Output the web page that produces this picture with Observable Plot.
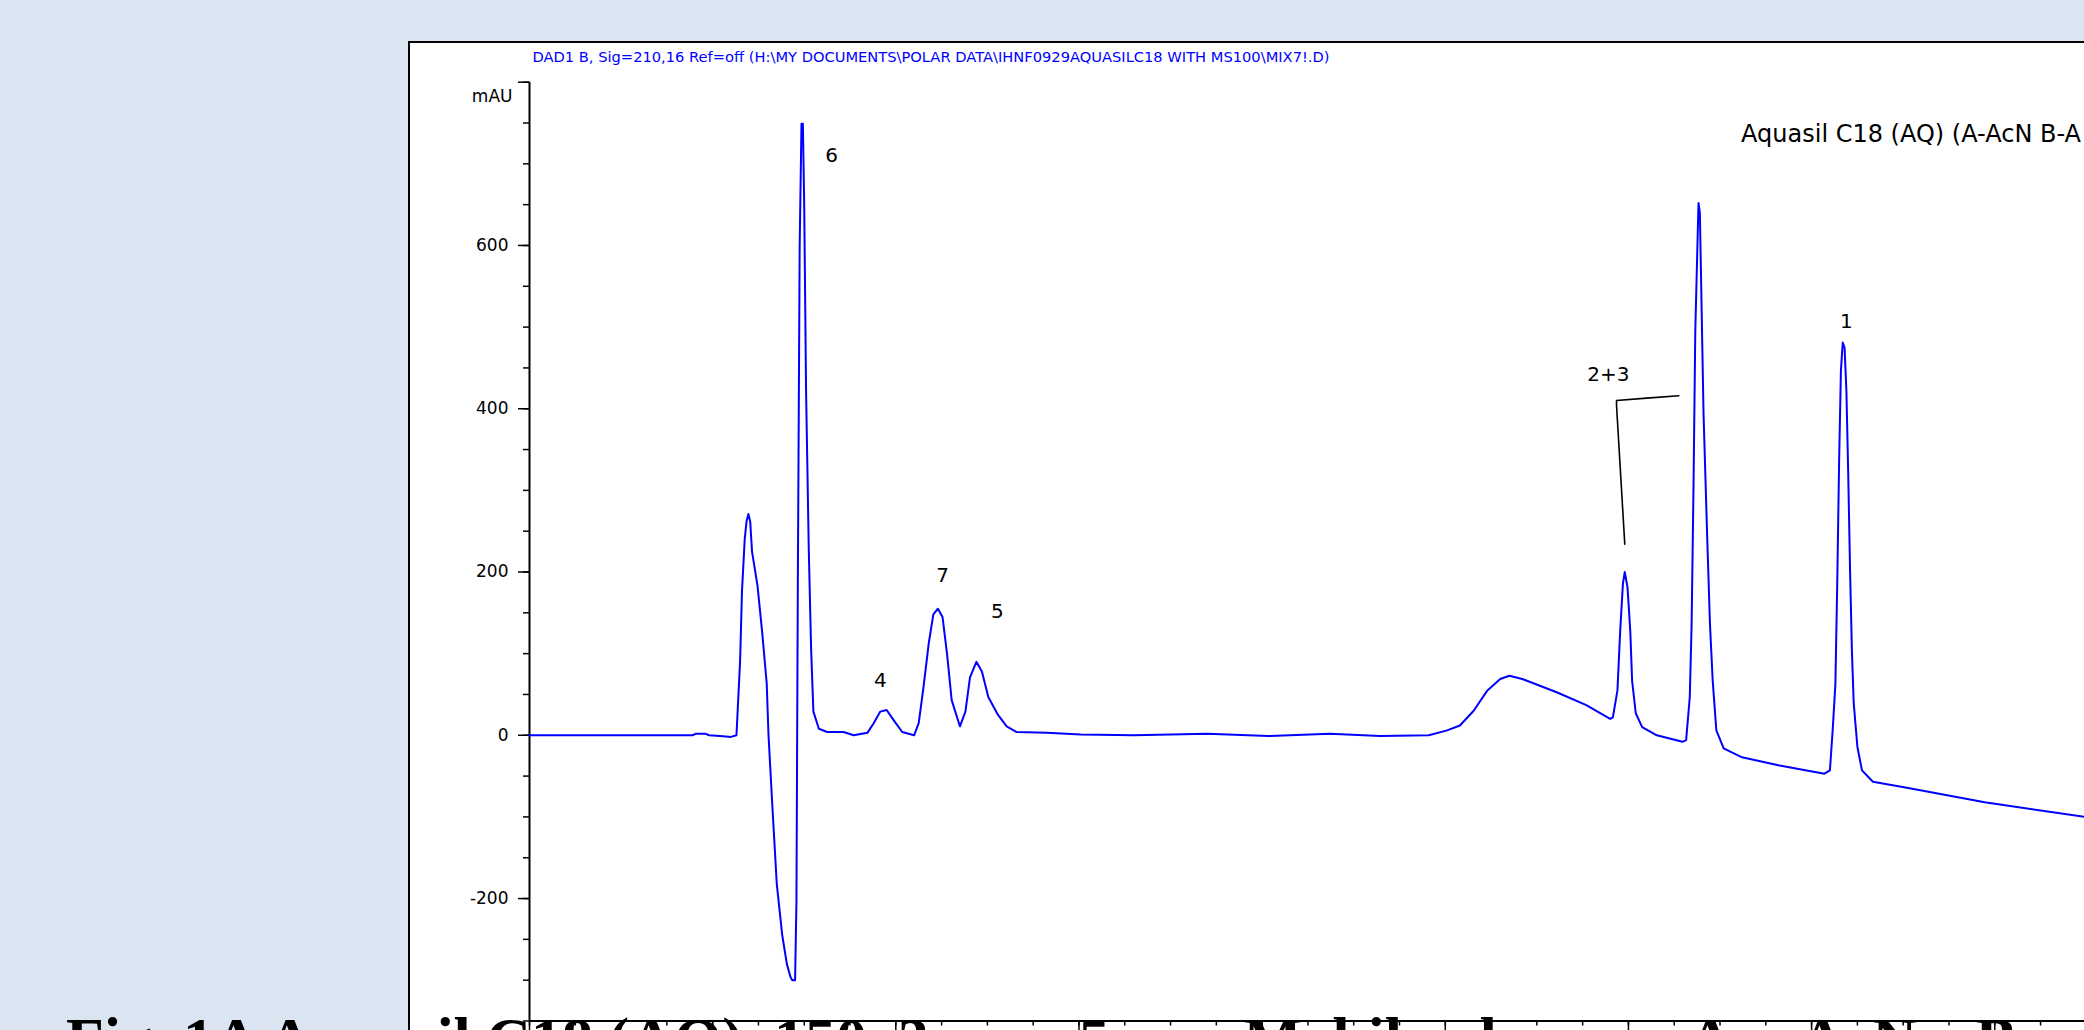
<!DOCTYPE html>
<html>
<head>
<meta charset="utf-8">
<script src="https://cdn.jsdelivr.net/npm/d3@7"></script>
<script src="https://cdn.jsdelivr.net/npm/@observablehq/plot@0.6"></script>
<style>
  html, body { margin: 0; padding: 0; width: 2084px; height: 1030px; overflow: hidden; background: #dbe5f1; }
  body { position: relative; }
  #frame { position: absolute; left: 408px; top: 41px; width: 1674px; height: 987px;
           background: #fff; border-left: 2px solid #000; border-top: 2px solid #000; overflow: hidden; }
  #frame svg { display: block; max-width: none; }
  .cap { position: absolute; top: 1008px; font-family: "Liberation Serif", "Times New Roman", serif;
         font-size: 62px; font-weight: bold; line-height: 1; color: #000; white-space: pre; z-index: 5; }
</style>
</head>
<body>
<div id="frame"></div>
<div class="cap" id="cap1" style="left:66px"></div>
<div class="cap" id="cap2" style="left:1688px; word-spacing:6px"></div>
<script>
// ---- chromatogram trace (retention time, min ; signal, mAU) ----
const times = [
  0.00, 0.80, 1.50, 1.78, 1.82, 1.92, 1.96, 2.08, 2.20, 2.26,
  2.30, 2.32, 2.35, 2.37, 2.39, 2.41, 2.43, 2.49, 2.54, 2.59,
  2.61, 2.65, 2.70, 2.76, 2.81, 2.85, 2.87, 2.90, 2.915, 2.93,
  2.95, 2.97, 2.985, 3.00, 3.02, 3.05, 3.075, 3.10, 3.16, 3.25,
  3.43, 3.54, 3.69, 3.76, 3.83, 3.90, 3.98, 4.07, 4.20, 4.25,
  4.30, 4.36, 4.41, 4.46, 4.51, 4.56, 4.61, 4.70, 4.76, 4.81,
  4.88, 4.94, 5.01, 5.11, 5.21, 5.32, 5.65, 6.02, 6.60, 7.40,
  8.07, 8.74, 9.29, 9.82, 10.02, 10.16, 10.31, 10.46, 10.60, 10.70,
  10.84, 11.21, 11.54, 11.80, 11.83, 11.88, 11.91, 11.94, 11.96, 11.99,
  12.02, 12.04, 12.08, 12.15, 12.31, 12.59, 12.63, 12.67, 12.69, 12.71,
  12.73, 12.765, 12.78, 12.82, 12.86, 12.89, 12.92, 12.96, 13.04, 13.24,
  13.65, 14.14, 14.20, 14.23, 14.26, 14.28, 14.30, 14.32, 14.34, 14.36,
  14.38, 14.40, 14.42, 14.44, 14.46, 14.50, 14.55, 14.67, 15.07, 15.89,
  16.98
];
const absorbance = [
  0, 0, 0, 0, 2, 2, 0, -1, -2, 0,
  92, 176, 240, 262, 271, 262, 225, 183, 127, 64,
  0, -83, -182, -245, -280, -296, -300, -300, -203, 183,
  597, 749, 749, 647, 422, 225, 106, 29, 8, 4,
  4, 0, 3, 15, 29, 31, 18, 4, 0, 15,
  57, 113, 148, 155, 145, 99, 43, 11, 29, 71,
  90, 78, 47, 26, 11, 4, 3, 1, 0, 2,
  -1, 2, -1, 0, 6, 12, 30, 55, 69, 73,
  69, 53, 37, 20, 22, 55, 128, 186, 200, 181,
  128, 67, 27, 10, 0, -8, -6, 47, 137, 300,
  495, 652, 640, 394, 243, 137, 67, 6, -16, -27,
  -37, -47, -43, 6, 63, 186, 332, 446, 481, 475,
  422, 320, 202, 104, 39, -14, -43, -57, -65, -82,
  -100
];

// ---- peak labels ----
const peakNames = ["6", "4", "7", "5", "2+3", "1"];
const peakLabelTimes = [3.30, 3.83, 4.51, 5.11, 11.78, 14.38];
const peakLabelValues = [710, 67, 196, 152, 442, 507];

// ---- bracket joining label 2+3 to its peak ----
const bracketTimes = [11.96, 11.87, 11.87, 12.20, 12.55];
const bracketValues = [234, 404, 410, 413, 416];

// ---- axis ticks ----
const yMajorTicks = [-200, 0, 200, 400, 600, 800];
const yMinorTicks = d3.range(-350, 801, 50);
const xMajorTicks = d3.range(0, 17, 2);
const xMinorTicks = d3.range(0, 17, 0.5);

// ---- texts ----
const titleText = "DAD1 B, Sig=210,16 Ref=off (H:\\MY DOCUMENTS\\POLAR DATA\\IHNF0929AQUASILC18 WITH MS100\\MIX7!.D)";
const sampleText = "Aquasil C18 (AQ) (A-AcN B-A";
const yUnit = "mAU";
const captionLeft = "Fig. 1A Aquasil C18 (AQ), 150x3 mm, 5 \u00b5m, Mobile phase:";
const captionRight = "A \u2013 AcN,  B \u2013";

const trace = times.map((t, i) => ({t, v: absorbance[i]}));
const peaks = peakNames.map((name, i) => ({name, t: peakLabelTimes[i], v: peakLabelValues[i]}));
const bracket = bracketTimes.map((t, i) => ({t, v: bracketValues[i]}));

const chart = Plot.plot({
  width: 1674,
  height: 987,
  marginLeft: 119,
  marginRight: 0,
  marginTop: 38.7,
  marginBottom: 9.5,
  x: {domain: [0, 16.98]},
  y: {domain: [-350, 800]},
  style: {background: "white", color: "#000", fontFamily: "'DejaVu Sans', sans-serif", fontSize: "17px"},
  marks: [
    Plot.axisY({ticks: yMinorTicks, tickSize: 6, tickFormat: () => "", label: null, strokeWidth: 1.5}),
    Plot.axisY({ticks: yMajorTicks, tickSize: 11, tickPadding: 10, label: null, strokeWidth: 1.5,
                tickFormat: d => d === 800 ? "" : String(d)}),
    Plot.axisX({ticks: xMinorTicks, tickSize: 5, tickFormat: () => "", label: null, strokeWidth: 1.5}),
    Plot.axisX({ticks: xMajorTicks, tickSize: 12, tickFormat: () => "", label: null, strokeWidth: 1.5}),
    Plot.ruleX([0], {y1: -350, y2: 800, stroke: "#000", strokeWidth: 2}),
    Plot.ruleY([-350], {stroke: "#000", strokeWidth: 2}),
    Plot.line(trace, {x: "t", y: "v", stroke: "#0000ff", strokeWidth: 2}),
    Plot.line(bracket, {x: "t", y: "v", stroke: "#000", strokeWidth: 1.6}),
    Plot.text(peaks, {x: "t", y: "v", text: "name", fontSize: 20, fill: "#000"}),
    Plot.text([sampleText], {x: 13.23, y: 736, textAnchor: "start", fontSize: 24, fill: "#000"}),
    Plot.text([yUnit], {x: 0, y: 800, dx: -17, dy: 14, textAnchor: "end", fontSize: 17, fill: "#000"}),
    Plot.text([titleText], {frameAnchor: "top-left", dx: 3, dy: -30, textAnchor: "start", fontSize: 14, fill: "#0000ff"})
  ]
});

chart.querySelectorAll("text").forEach(el => {
  if (el.textContent === titleText) {
    el.setAttribute("textLength", "797");
    el.setAttribute("lengthAdjust", "spacingAndGlyphs");
  }
});

document.getElementById("frame").appendChild(chart);
document.getElementById("cap1").textContent = captionLeft;
document.getElementById("cap2").textContent = captionRight;
</script>
</body>
</html>
